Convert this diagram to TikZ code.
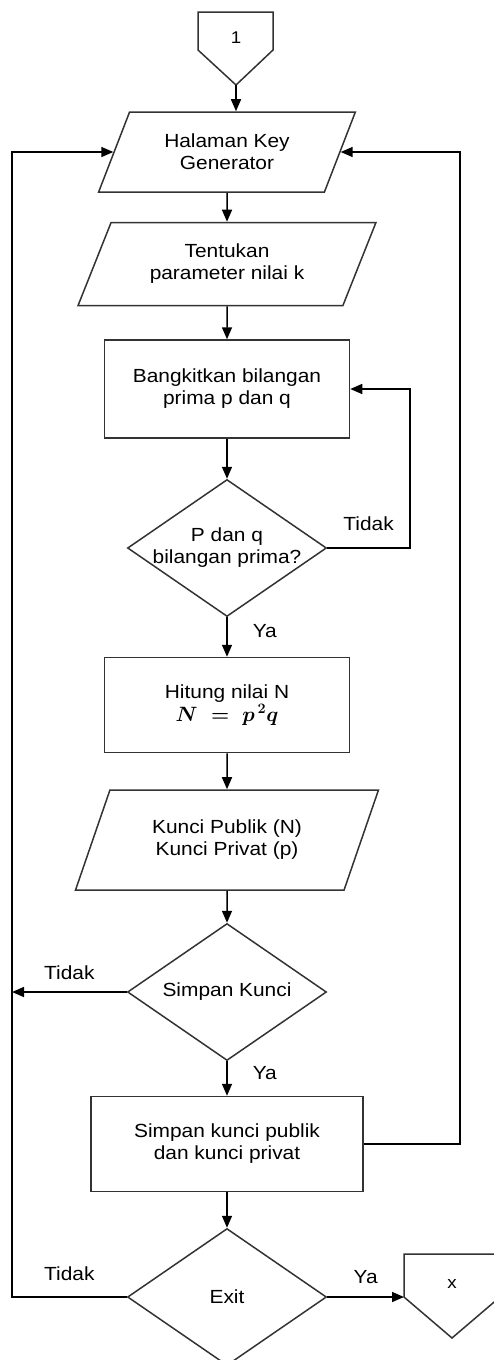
\documentclass[tikz,border=0pt]{standalone}
\usepackage{fontspec}
\setmainfont[FakeStretch=1.1]{Liberation Sans}
\usetikzlibrary{shapes.geometric,arrows.meta}

\begin{document}
\begin{tikzpicture}[x=1pt,y=-1pt,
    font=\fontsize{19}{22}\selectfont,
    line width=1.5pt,
    every node/.style={align=center},
    io/.style={trapezium, trapezium left angle=61, trapezium right angle=119,
        trapezium stretches=true, draw=black!80, inner sep=0pt},
    process/.style={rectangle, draw=black!80, inner sep=0pt},
    decision/.style={diamond, draw=black!80, inner sep=0pt,
        minimum width=199pt, minimum height=137pt},
    arrow/.style={-{Triangle[length=12pt,width=10pt]}, black},
    lbl/.style={inner sep=0pt},
    conn/.style={font=\fontsize{17}{20}\selectfont}]
        \useasboundingbox (0,0) rectangle (494,1360);

        % Konektor awal
        \draw[draw=black!80] (198,12) -- (273,12) -- (273,50) -- (236,85) -- (198,50) -- cycle;
        \node[conn] (con1) at (236,38) {1};
        \coordinate (con1-tip) at (236,85);

        % Langkah
        \node[io, minimum width=257pt, minimum height=80pt] (p1) at (227,152) {Halaman Key\\Generator};
        \node[io, minimum width=298pt, minimum height=83pt] (p2) at (227,264) {Tentukan\\parameter nilai k};
        \node[process, minimum width=245pt, minimum height=98pt] (r1) at (227,389) {Bangkitkan bilangan\\prima p dan q};
        \node[decision] (d1) at (227,548) {};
        \node (d1-txt) at (d1) {P dan q\\bilangan prima?};
        \node[process, minimum width=245pt, minimum height=95pt] (r2) at (227,705)
            {Hitung nilai N\\[1pt]{\fontsize{21}{24}\selectfont\boldmath$N \;=\; p^{\,2}q$}};
        \node[io, minimum width=303pt, minimum height=100pt] (p3) at (227,840) {Kunci Publik (N)\\Kunci Privat (p)};
        \node[decision] (d2) at (227,992) {};
        \node (d2-txt) at (d2) {Simpan Kunci};
        \node[process, minimum width=272pt, minimum height=95pt] (r3) at (227,1144) {Simpan kunci publik\\dan kunci privat};
        \node[decision] (d3) at (227,1297) {};
        \node (d3-txt) at (d3) {Exit};

        % Konektor akhir
        \draw[draw=black!80] (404,1254) -- (500,1254) -- (500,1297) -- (452,1338) -- (404,1297) -- cycle;
        \node[conn] (conx) at (452,1284) {x};
        \coordinate (conx-in) at (404,1297);

        % Panah
        \draw[arrow] (con1-tip) -- (con1-tip |- p1.north);
        \draw[arrow] (p1.south) -- (p2.north);
        \draw[arrow] (p2.south) -- (r1.north);
        \draw[arrow] (r1.south) -- (d1.north);
        \draw[arrow] (d1.south) -- node[lbl, pos=0.35, right=25pt] {Ya} (r2.north);
        \draw[arrow] (r2.south) -- (p3.north);
        \draw[arrow] (p3.south) -- (d2.north);
        \draw[arrow] (d2.south) -- node[lbl, pos=0.35, right=25pt] {Ya} (r3.north);
        \draw[arrow] (r3.south) -- (d3.north);

        % Cabang
        \coordinate (loop) at (410,390);
        \coordinate (rail-l) at (12,152);
        \coordinate (rail-r) at (460,152);
        \draw[arrow] (d1.east) -- node[lbl, above=17pt] {Tidak} (d1.east -| loop) |- (r1.east);
        \draw[arrow] (d2.west) -- node[lbl, above=12pt] {Tidak} (d2.west -| rail-l);
        \draw[arrow] (d3.west) -- node[lbl, above=16pt] {Tidak} (d3.west -| rail-l) |- (p1.west);
        \draw[arrow] (r3.east) -- (r3.east -| rail-r) |- (p1.east);
        \draw[arrow] (d3.east) -- node[lbl, above=13pt] {Ya} (conx-in);
    \end{tikzpicture}
\end{document}
